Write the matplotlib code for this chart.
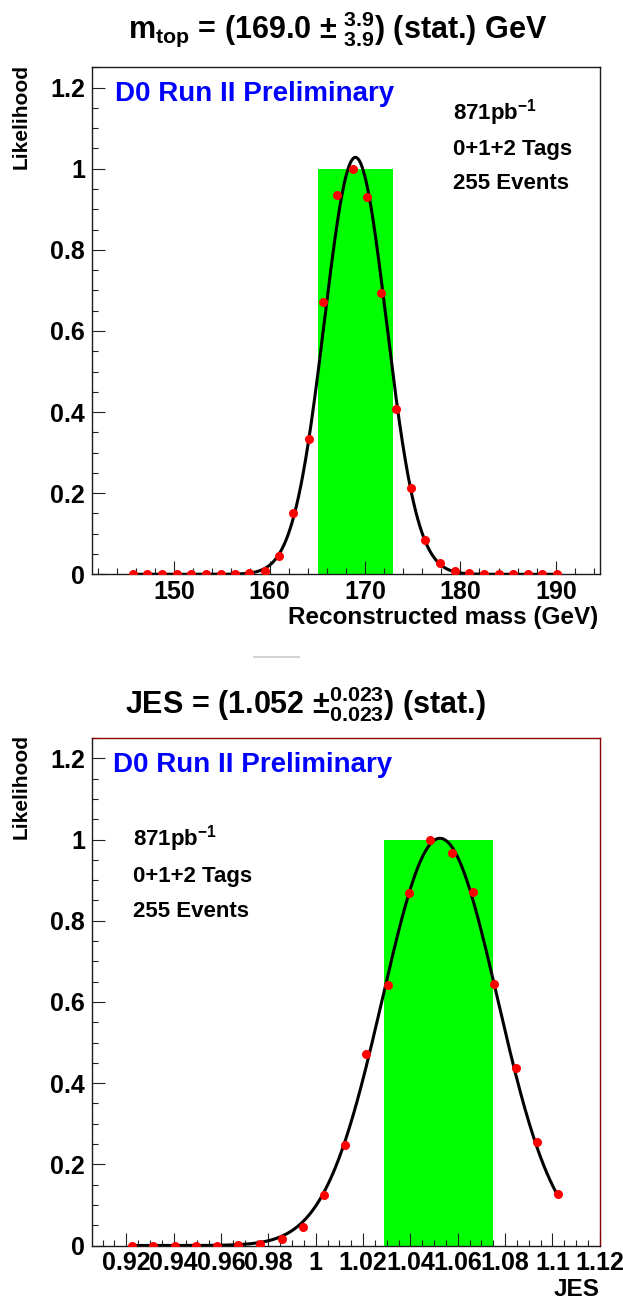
import numpy as np
import matplotlib
matplotlib.use("Agg")
import matplotlib.pyplot as plt
from matplotlib.ticker import FixedLocator, MultipleLocator, FuncFormatter
from matplotlib.lines import Line2D

plt.rcParams['font.family'] = ['Liberation Sans', 'DejaVu Sans']
plt.rcParams['font.weight'] = 'bold'
plt.rcParams['mathtext.fontset'] = 'custom'
plt.rcParams['mathtext.rm'] = 'Liberation Sans:bold'
plt.rcParams['mathtext.it'] = 'Liberation Sans:bold'
plt.rcParams['mathtext.bf'] = 'Liberation Sans:bold'
plt.rcParams['mathtext.sf'] = 'Liberation Sans:bold'
plt.rcParams['mathtext.default'] = 'rm'

# ---- likelihood scan in top-quark mass ----
mass = [145.7, 147.2, 148.7, 150.3, 151.8, 153.3, 154.9, 156.4, 157.9, 159.5,
        161.0, 162.5, 164.1, 165.6, 167.1, 168.7, 170.2, 171.7, 173.3, 174.8,
        176.3, 177.9, 179.4, 180.9, 182.5, 184.0, 185.5, 187.1, 188.6, 190.1]
mass_like = [0.0, 0.0, 0.0, 0.0, 0.0, 0.0, 0.0, 0.0, 0.002, 0.008,
             0.045, 0.151, 0.333, 0.671, 0.936, 1.0, 0.929, 0.693, 0.408, 0.212,
             0.085, 0.028, 0.008, 0.002, 0.0, 0.0, 0.0, 0.0, 0.0, 0.0]
mtop_central = 169.0
mtop_err = 3.9
mass_fit_amp, mass_fit_mean, mass_fit_sigma = 1.028, 169.0, 3.25

# ---- likelihood scan in jet energy scale ----
jes = [0.9224, 0.9314, 0.9404, 0.9494, 0.9583, 0.9673, 0.9764, 0.9856, 0.9945, 1.0036,
       1.0124, 1.0213, 1.0307, 1.0395, 1.0483, 1.0575, 1.0666, 1.0755, 1.0846, 1.0934,
       1.1025]
jes_like = [0.0, 0.0, 0.0, 0.0, 0.0, 0.001, 0.004, 0.015, 0.046, 0.124,
            0.248, 0.471, 0.641, 0.869, 1.0, 0.966, 0.870, 0.644, 0.438, 0.254,
            0.126]
jes_central = 1.052
jes_err = 0.023
jes_fit_amp, jes_fit_mean, jes_fit_sigma = 1.003, 1.0525, 0.0243

mass_ticks = [150, 160, 170, 180, 190]
jes_ticks = [0.92, 0.94, 0.96, 0.98, 1.00, 1.02, 1.04, 1.06, 1.08, 1.10, 1.12]
like_ticks = [0.0, 0.2, 0.4, 0.6, 0.8, 1.0, 1.2]

W, H = 623, 1299
fig = plt.figure(figsize=(W / 100, H / 100), dpi=100)


def fx(px):
    return px / W


def fy(py):
    return 1 - py / H


ax1 = fig.add_axes([fx(92), fy(574.3), (599.7 - 92) / W, (574.3 - 67.3) / H])
ax2 = fig.add_axes([fx(92), fy(1245.5), (600 - 92) / W, (1245.5 - 738) / H])


def gauss(x, a, m, s):
    return a * np.exp(-0.5 * ((x - m) / s) ** 2)


def fmt(v, pos):
    return f'{v:.2f}'.rstrip('0').rstrip('.')


def style(ax, xminor):
    ax.set_ylim(0, 1.25)
    ax.yaxis.set_major_locator(FixedLocator(like_ticks))
    ax.yaxis.set_minor_locator(MultipleLocator(0.05))
    ax.xaxis.set_minor_locator(MultipleLocator(xminor))
    ax.xaxis.set_major_formatter(FuncFormatter(fmt))
    ax.yaxis.set_major_formatter(FuncFormatter(fmt))
    ax.tick_params(which='both', direction='in', top=False, right=False,
                   color='#222222', width=0.8, labelsize=18)
    ax.tick_params(which='major', length=9.4)
    ax.tick_params(which='minor', length=4.3)
    ax.tick_params(axis='y', pad=5)
    ax.tick_params(axis='x', pad=4)
    for lab in ax.get_xticklabels() + ax.get_yticklabels():
        lab.set_fontweight('bold')
    for sp in ax.spines.values():
        sp.set_linewidth(1.0)
        sp.set_color('#1a1a1a')


# top panel
ax1.set_xlim(141.4, 194.6)
ax1.xaxis.set_major_locator(FixedLocator(mass_ticks))
style(ax1, 2)
ax1.bar(mtop_central, 1.0, width=2 * mtop_err, color='#00ff00', zorder=1)
xm = np.linspace(mass[0], mass[-1], 600)
ax1.plot(xm, gauss(xm, mass_fit_amp, mass_fit_mean, mass_fit_sigma),
         color='black', lw=2.2, zorder=3)
ax1.plot(mass, mass_like, 'o', color='#ff0000', ms=6.5, mec='none', zorder=4)

# bottom panel
ax2.set_xlim(0.9055, 1.1201)
ax2.xaxis.set_major_locator(FixedLocator(jes_ticks))
style(ax2, 0.005)
for side in ('top', 'right'):
    ax2.spines[side].set_color('#8b0000')
ax2.bar(jes_central, 1.0, width=2 * jes_err, color='#00ff00', zorder=1)
xj = np.linspace(jes[0], jes[-1], 600)
ax2.plot(xj, gauss(xj, jes_fit_amp, jes_fit_mean, jes_fit_sigma),
         color='black', lw=2.2, zorder=3)
ax2.plot(jes, jes_like, 'o', color='#ff0000', ms=6.5, mec='none', zorder=4)

# titles
fig.text(fx(338), fy(38), r'$m_{top}$ = (169.0 $\pm\;{}^{3.9}_{3.9}$) (stat.) GeV',
         ha='center', va='baseline', fontsize=22)
fig.text(fx(305), fy(713), r'JES = (1.052 $\pm^{0.023}_{0.023}$) (stat.)',
         ha='center', va='baseline', fontsize=22)

# labels
for top in (64, 734):
    fig.text(fx(21), fy(top), 'Likelihood', rotation=90, ha='center', va='top',
             fontsize=15)
fig.text(fx(598), fy(624), 'Reconstructed mass (GeV)', ha='right', va='baseline',
         fontsize=17.5)
fig.text(fx(600), fy(1296), 'JES', ha='right', va='baseline', fontsize=17.5)

# annotations
fig.text(fx(115), fy(101), 'D0 Run II Preliminary', color='#0000ff',
         ha='left', va='baseline', fontsize=20)
fig.text(fx(113), fy(772), 'D0 Run II Preliminary', color='#0000ff',
         ha='left', va='baseline', fontsize=20)
for x0, ys in ((453, (120, 155, 189)), (133, (846, 882, 917))):
    fig.text(fx(x0), fy(ys[0]), r'871pb$^{-1}$', ha='left', va='baseline', fontsize=16)
    fig.text(fx(x0), fy(ys[1]), '0+1+2 Tags', ha='left', va='baseline', fontsize=16)
    fig.text(fx(x0), fy(ys[2]), '255 Events', ha='left', va='baseline', fontsize=16)

# short separator between the two pads
fig.add_artist(Line2D([fx(254), fx(299)], [fy(657), fy(657)], color='#d3d3d3', lw=1.5))

fig.savefig('out.png', dpi=100, facecolor='white')
